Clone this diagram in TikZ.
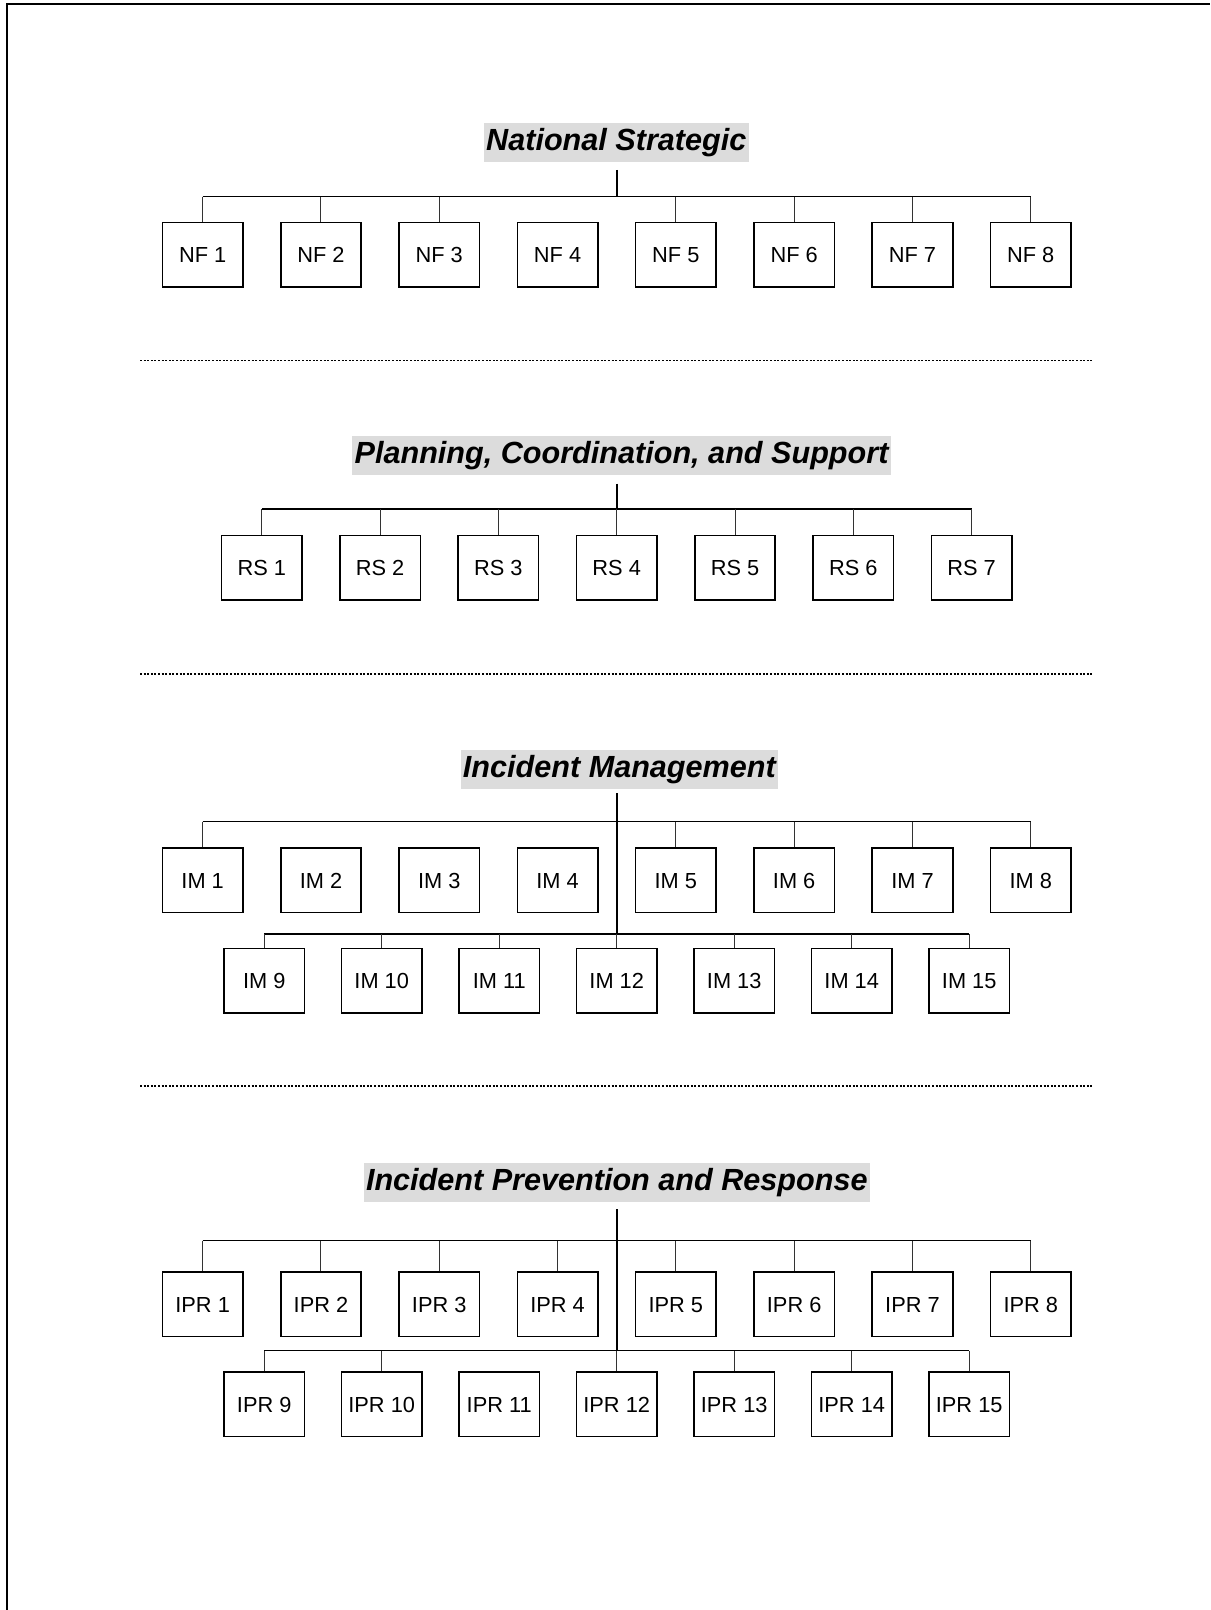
\documentclass[tikz,border=0pt]{standalone}
\usepackage{fontspec}
\setmainfont{Liberation Sans}
\definecolor{titlegray}{RGB}{220,220,220}
\begin{document}
\begin{tikzpicture}[x=0.5pt,y=-0.5pt,
  box/.style={draw, line width=0.8pt, minimum width=40.25pt, minimum height=32.25pt, inner sep=0pt, text height=7.9pt, text depth=0pt, font=\fontsize{10.9}{12}\selectfont},
  ttl/.style={fill=titlegray, inner xsep=1.2pt, inner ysep=0pt, minimum height=19.6pt, text height=11.6pt, text depth=3.6pt, font=\fontsize{15.3}{18}\selectfont\bfseries\itshape},
  trunk/.style={line width=0.9pt},
  bus/.style={line width=0.65pt},
  stub/.style={line width=0.5pt, black!80},
  sep/.style={line width=0.75pt, dash pattern=on 1pt off 0.8pt},
  frame/.style={line width=0.85pt}]
\useasboundingbox (0,0) rectangle (1210,1610);
% page frame (top and left edges)
\draw[frame] (6.8,1610) -- (6.8,4.3) -- (1210,4.3);
% separators
\draw[sep] (140,360.5) -- (1092,360.5);
\draw[sep] (140,673.9) -- (1092,673.9);
\draw[sep] (140,1085.8) -- (1092,1085.8);

% ---------------- National Strategic
\node[ttl] (tNF) at (616.3,142.5) {National Strategic};
\foreach \i in {1,...,8}
  \node[box] (nf\i) at ({616.7+(\i-4.5)*118.3},254.8) {NF \i};
\coordinate (nfTop) at (616.7,170);
\coordinate (nfJ) at (616.7,196.7);
\draw[trunk] (nfTop) -- (nfJ);
\draw[bus] (nf1 |- nfJ) -- (nf8 |- nfJ);
\foreach \i in {1,2,3,5,6,7,8}
  \draw[stub] (nf\i |- nfJ) -- (nf\i.north);

% ---------------- Planning, Coordination, and Support
\node[ttl] (tRS) at (621.5,455.5) {Planning, Coordination, and Support};
\foreach \i in {1,...,7}
  \node[box] (rs\i) at ({616.7+(\i-4)*118.3},567.9) {RS \i};
\coordinate (rsTop) at (616.7,483.5);
\coordinate (rsJ) at (616.7,509);
\draw[trunk] (rsTop) -- (rsJ);
\draw[bus] (rs1 |- rsJ) -- (rs7 |- rsJ);
\foreach \i in {1,...,7}
  \draw[stub] (rs\i |- rsJ) -- (rs\i.north);

% ---------------- Incident Management
\node[ttl] (tIM) at (619.4,769.3) {Incident Management};
\foreach \i in {1,...,8}
  \node[box] (im\i) at ({616.7+(\i-4.5)*118.3},880.3) {IM \i};
\foreach \i in {9,...,15}
  \node[box] (im\i) at ({616.7+(\i-12)*117.5},980.8) {IM \i};
\coordinate (imTop) at (616.7,793);
\coordinate (imJa) at (616.7,821.7);
\coordinate (imJb) at (616.7,934);
\draw[trunk] (imTop) -- (imJb);
\draw[bus] (im1 |- imJa) -- (im8 |- imJa);
\draw[bus] (im9 |- imJb) -- (im15 |- imJb);
\foreach \i in {1,5,6,7,8}
  \draw[stub] (im\i |- imJa) -- (im\i.north);
\foreach \i in {9,...,15}
  \draw[stub] (im\i |- imJb) -- (im\i.north);

% ---------------- Incident Prevention and Response
\node[ttl] (tIPR) at (616.8,1182.3) {Incident Prevention and Response};
\foreach \i in {1,...,8}
  \node[box] (ipr\i) at ({616.7+(\i-4.5)*118.3},1304.3) {IPR \i};
\foreach \i in {9,...,15}
  \node[box] (ipr\i) at ({616.7+(\i-12)*117.5},1404.1) {IPR \i};
\coordinate (iprTop) at (616.7,1209.3);
\coordinate (iprJa) at (616.7,1240.7);
\coordinate (iprJb) at (616.7,1350.5);
\draw[trunk] (iprTop) -- (iprJb);
\draw[bus] (ipr1 |- iprJa) -- (ipr8 |- iprJa);
\draw[bus] (ipr9 |- iprJb) -- (ipr15 |- iprJb);
\foreach \i in {1,...,8}
  \draw[stub] (ipr\i |- iprJa) -- (ipr\i.north);
\foreach \i in {9,10,12,13,14,15}
  \draw[stub] (ipr\i |- iprJb) -- (ipr\i.north);
\end{tikzpicture}
\end{document}
